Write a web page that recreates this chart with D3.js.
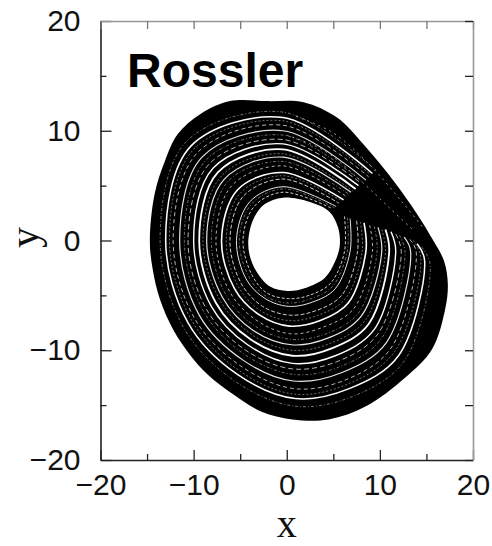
<!DOCTYPE html>
<html>
<head>
<meta charset="utf-8">
<script src="https://cdn.jsdelivr.net/npm/d3@7"></script>
<style>
body { margin: 0; background: #fff; }
svg { display: block; }
</style>
</head>
<body>
<svg width="492" height="546"></svg>
<script>
// axis ticks
const majorTicks = [-20, -10, 0, 10, 20]
const minorTicks = [-15, -5, 5, 15]

// outline of the dark band (x, y)
const outerEdge = [[-6.1, 12.7], [-2.0, 12.7], [1.8, 12.6], [5.4, 11.2], [8.3, 8.7], [11.5, 5.4], [14.0, 2.4],
	[15.8, -0.1], [16.9, -1.9], [17.3, -4.0], [17.0, -6.3], [15.6, -9.9], [12.7, -12.5], [8.5, -15.1],
	[4.5, -16.3], [0.6, -16.3], [-2.7, -15.6], [-5.6, -14.1], [-8.5, -12.2], [-10.4, -10.4], [-12.2, -8.1],
	[-13.6, -5.4], [-14.4, -2.6], [-14.7, 0], [-14.2, 4.2], [-13.1, 7.2], [-11.7, 9.7], [-9.3, 11.5]]

// empty middle
const innerHole = [[-0.4, 3.9], [2.5, 3.5], [4.6, 2.6], [5.5, 1.2], [5.7, -0.4], [5.2, -1.9], [4.1, -3.4],
	[2.1, -4.3], [0.1, -4.6], [-1.8, -4.2], [-3.2, -2.9], [-4.0, -1.3], [-4.1, 0.3], [-3.5, 2.1], [-2.4, 3.3]]

// bright strands winding round the hole, inner to outer
const strandA = [[6.2, 2.2], [6.2, -1.0], [4.7, -3.9], [2.4, -5.0], [0.2, -5.3], [-2.1, -4.8], [-3.7, -3.2], [-4.7, 0], [-3.5, 3.1], [-0.4, 4.4], [4.9, 2.9]]
const strandB = [[6.8, 2.0], [6.8, -1.0], [5.2, -4.4], [2.8, -5.6], [0.2, -6.0], [-2.3, -5.3], [-4.3, -3.6], [-5.4, 0], [-4.0, 3.5], [-0.4, 4.9], [5.3, 3.1]]
const strandC = [[7.5, 1.8], [7.6, -1.0], [5.9, -5.0], [3.1, -6.4], [0.3, -6.8], [-2.6, -6.0], [-4.9, -3.9], [-6.1, 0], [-4.7, 4.0], [-0.4, 5.6], [5.6, 3.4]]
const strandD = [[8.3, 1.6], [8.5, -1.0], [6.6, -5.7], [3.6, -7.3], [0.3, -7.8], [-2.9, -6.8], [-5.6, -4.4], [-7.0, 0], [-5.3, 4.6], [-0.4, 6.2], [6.1, 3.7]]
const strandE = [[8.9, 1.4], [9.2, -1.0], [7.2, -6.2], [3.9, -7.9], [0.4, -8.5], [-3.2, -7.3], [-6.1, -4.7], [-7.6, 0], [-5.9, 5.0], [-0.4, 6.8], [6.4, 4.0]]
const strandF = [[9.8, 1.2], [10.2, -1.0], [8.0, -6.9], [4.4, -8.9], [0.5, -9.5], [-3.6, -8.2], [-6.9, -5.2], [-8.6, 0], [-6.7, 5.6], [-0.4, 7.6], [6.9, 4.4]]
const strandG = [[10.6, 1.0], [11.0, -1.0], [8.8, -7.6], [4.9, -9.8], [0.6, -10.5], [-3.9, -9.0], [-7.6, -5.7], [-9.4, 0], [-7.4, 6.2], [-0.4, 8.3], [7.4, 4.7]]
const strandH = [[11.2, 0.8], [11.7, -1.0], [9.4, -8.1], [5.2, -10.5], [0.6, -11.2], [-4.2, -9.5], [-8.1, -6.0], [-10.0, 0], [-7.9, 6.6], [-0.4, 8.8], [7.7, 5.0]]
const strandI = [[11.7, 0.6], [12.3, -1.0], [9.8, -8.5], [5.5, -11.0], [0.6, -11.7], [-4.4, -10.0], [-8.6, -6.3], [-10.6, 0], [-8.3, 7.0], [-0.4, 9.2], [8.0, 5.2]]
const strandJ = [[12.6, 0.3], [13.3, -1.0], [10.7, -9.3], [6.0, -12.0], [0.7, -12.8], [-4.7, -10.9], [-9.4, -6.8], [-11.5, 0], [-9.1, 7.6], [-0.4, 10.0], [8.5, 5.5]]
const strandK = [[13.2, 0.1], [13.9, -1.0], [11.2, -9.8], [6.3, -12.7], [0.8, -13.5], [-5.0, -11.4], [-9.9, -7.1], [-12.2, 0], [-9.6, 8.0], [-0.4, 10.5], [8.8, 5.8]]
const strandL = [[14.0, -0.3], [14.8, -1.8], [12.0, -10.5], [6.7, -13.5], [0.9, -14.4], [-5.3, -12.2], [-10.6, -7.5], [-13.0, 0], [-10.3, 8.6], [-0.4, 11.2], [9.2, 6.1]]

// faint broken strands lying between the bright ones
const faintA = [[6.5, 2.1], [6.5, -1.0], [4.9, -4.2], [2.6, -5.3], [0.2, -5.7], [-2.2, -5.1], [-4.0, -3.4], [-5.1, 0], [-3.8, 3.3], [-0.4, 4.7], [5.1, 3.0]]
const faintB = [[7.9, 1.7], [8.1, -1.0], [6.3, -5.3], [3.4, -6.8], [0.3, -7.3], [-2.8, -6.4], [-5.2, -4.2], [-6.5, 0], [-5.0, 4.3], [-0.4, 5.9], [5.9, 3.6]]
const faintC = [[9.4, 1.3], [9.7, -1.0], [7.7, -6.6], [4.2, -8.5], [0.4, -9.0], [-3.4, -7.8], [-6.5, -5.0], [-8.1, 0], [-6.3, 5.4], [-0.4, 7.2], [6.7, 4.2]]
const faintD = [[10.2, 1.0], [10.6, -1.0], [8.4, -7.3], [4.6, -9.4], [0.5, -10.0], [-3.7, -8.6], [-7.2, -5.4], [-9.0, 0], [-7.0, 5.9], [-0.4, 7.9], [7.1, 4.5]]
const faintE = [[12.1, 0.5], [12.7, -1.0], [10.2, -8.9], [5.7, -11.5], [0.7, -12.2], [-4.5, -10.4], [-8.9, -6.5], [-11.0, 0], [-8.7, 7.3], [-0.4, 9.6], [8.2, 5.3]]
const faintF = [[13.6, 0.0], [14.4, -1.6], [11.6, -10.1], [6.5, -13.1], [0.8, -14.0], [-5.2, -11.8], [-10.2, -7.3], [-12.6, 0], [-10.0, 8.3], [-0.4, 10.9], [9.0, 6.0]]
const faintG = [[14.5, -0.6], [15.4, -2.2], [12.6, -11.0], [7.1, -14.2], [0.9, -15.1], [-5.6, -12.8], [-11.1, -7.9], [-13.6, 0], [-10.8, 9.0], [-0.4, 11.7], [9.6, 6.4]]

// diagonal streaks across the fold (upper right)
const foldA = [[0, 9.6], [4, 8.2], [8, 5.4], [11, 3.0], [13.5, 1.0]]
const foldB = [[1, 11.3], [5, 9.8], [9, 6.8], [12.5, 3.4], [14.8, 1.0]]

const strands = [strandA, strandB, strandC, strandD, strandE, strandF, strandG, strandH, strandI, strandJ, strandK, strandL]
const faintStrands = [faintA, faintB, faintC, faintD, faintE, faintF, faintG]
const folds = [foldA, foldB]

const strandStyle = [
	{ w: 1.0, dash: "3 2", op: 0.8 }, { w: 1.0, dash: null, op: 0.9 }, { w: 1.0, dash: "4 2", op: 0.8 },
	{ w: 1.6, dash: null, op: 1 }, { w: 1.0, dash: "3 3", op: 0.7 }, { w: 1.2, dash: null, op: 0.9 },
	{ w: 1.8, dash: null, op: 1 }, { w: 1.4, dash: null, op: 1 }, { w: 1.0, dash: "5 3", op: 0.7 },
	{ w: 1.2, dash: null, op: 0.9 }, { w: 1.0, dash: "4 3", op: 0.7 }, { w: 1.5, dash: null, op: 1 }
]

const svg = d3.select("svg")

const x = d3.scaleLinear().domain([-20, 20]).range([100.5, 473])
const y = d3.scaleLinear().domain([-20, 20]).range([460, 21])

const closedLine = d3.line()
	.x((d) => x(d[0]))
	.y((d) => y(d[1]))
	.curve(d3.curveCatmullRomClosed.alpha(0.5))

const openLine = d3.line()
	.x((d) => x(d[0]))
	.y((d) => y(d[1]))
	.curve(d3.curveCatmullRom.alpha(0.5))

const attractor = svg.append("g")

attractor.append("path")
	.attr("d", closedLine(outerEdge))
	.attr("fill", "#000")

attractor.selectAll("path.faint")
	.data(faintStrands)
	.enter()
	.append("path")
	.attr("class", "faint")
	.attr("d", openLine)
	.attr("fill", "none")
	.attr("stroke", "#fff")
	.attr("stroke-width", 0.8)
	.attr("stroke-dasharray", (d, i) => (i % 2 ? "2 2" : "3 2 1 2"))
	.attr("stroke-opacity", 0.55)

attractor.selectAll("path.strand")
	.data(strands)
	.enter()
	.append("path")
	.attr("class", "strand")
	.attr("d", openLine)
	.attr("fill", "none")
	.attr("stroke", "#fff")
	.attr("stroke-width", (d, i) => strandStyle[i].w)
	.attr("stroke-dasharray", (d, i) => strandStyle[i].dash)
	.attr("stroke-opacity", (d, i) => strandStyle[i].op)

attractor.selectAll("path.fold")
	.data(folds)
	.enter()
	.append("path")
	.attr("class", "fold")
	.attr("d", openLine)
	.attr("fill", "none")
	.attr("stroke", "#fff")
	.attr("stroke-width", 1)
	.attr("stroke-dasharray", "2 4")
	.attr("stroke-opacity", 0.6)

attractor.append("path")
	.attr("d", closedLine(innerHole))
	.attr("fill", "#fff")

// axes: ticks point inward on all four sides
const labelFont = (g) => g.selectAll("text")
	.attr("font-family", "'Liberation Sans', Arial, sans-serif")
	.attr("font-size", 30)
	.attr("fill", "#111")

const styleAxis = (g, colour) => {
	g.select(".domain").attr("stroke", colour).attr("stroke-width", 1.6)
	g.selectAll(".tick line").attr("stroke", "#222").attr("stroke-width", 1.3)
}

const bottomAxis = svg.append("g")
	.attr("transform", `translate(0, ${y(-20)})`)
	.call(d3.axisBottom(x).tickValues(majorTicks).tickSizeInner(-10).tickSizeOuter(0).tickPadding(14))
	.call(labelFont)
styleAxis(bottomAxis, "#222")

svg.append("g")
	.attr("transform", `translate(0, ${y(-20)})`)
	.call(d3.axisBottom(x).tickValues(minorTicks).tickSizeInner(-6).tickSizeOuter(0).tickFormat(""))
	.call((g) => g.select(".domain").remove())
	.call((g) => g.selectAll(".tick line").attr("stroke", "#222").attr("stroke-width", 1.3))

const leftAxis = svg.append("g")
	.attr("transform", `translate(${x(-20)}, 0)`)
	.call(d3.axisLeft(y).tickValues(majorTicks).tickSizeInner(-11).tickSizeOuter(0).tickPadding(20))
	.call(labelFont)
styleAxis(leftAxis, "#222")

svg.append("g")
	.attr("transform", `translate(${x(-20)}, 0)`)
	.call(d3.axisLeft(y).tickValues(minorTicks).tickSizeInner(-6).tickSizeOuter(0).tickFormat(""))
	.call((g) => g.select(".domain").remove())
	.call((g) => g.selectAll(".tick line").attr("stroke", "#222").attr("stroke-width", 1.3))

const topAxis = svg.append("g")
	.attr("transform", `translate(0, ${y(20)})`)
	.call(d3.axisTop(x).tickValues(majorTicks.concat(minorTicks)).tickSizeInner(-8).tickSizeOuter(0).tickFormat(""))
styleAxis(topAxis, "#999")
topAxis.selectAll(".tick line").attr("stroke", "#777")

const rightAxis = svg.append("g")
	.attr("transform", `translate(${x(20)}, 0)`)
	.call(d3.axisRight(y).tickValues(majorTicks.concat(minorTicks)).tickSizeInner(-8).tickSizeOuter(0).tickFormat(""))
styleAxis(rightAxis, "#999")

// axis titles
svg.append("text")
	.attr("x", x(0))
	.attr("y", 537)
	.attr("text-anchor", "middle")
	.attr("font-family", "'Liberation Serif', 'Times New Roman', serif")
	.attr("font-size", 40)
	.attr("fill", "#111")
	.text("x")

svg.append("text")
	.attr("transform", `translate(38, ${y(0) - 3}) rotate(-90)`)
	.attr("text-anchor", "middle")
	.attr("font-family", "'Liberation Serif', 'Times New Roman', serif")
	.attr("font-size", 42)
	.attr("fill", "#111")
	.text("y")

svg.append("text")
	.attr("x", 127)
	.attr("y", 87)
	.attr("font-family", "'Liberation Sans', Arial, sans-serif")
	.attr("font-weight", "bold")
	.attr("font-size", 48)
	.attr("fill", "#000")
	.text("Rossler")
</script>
</body>
</html>
